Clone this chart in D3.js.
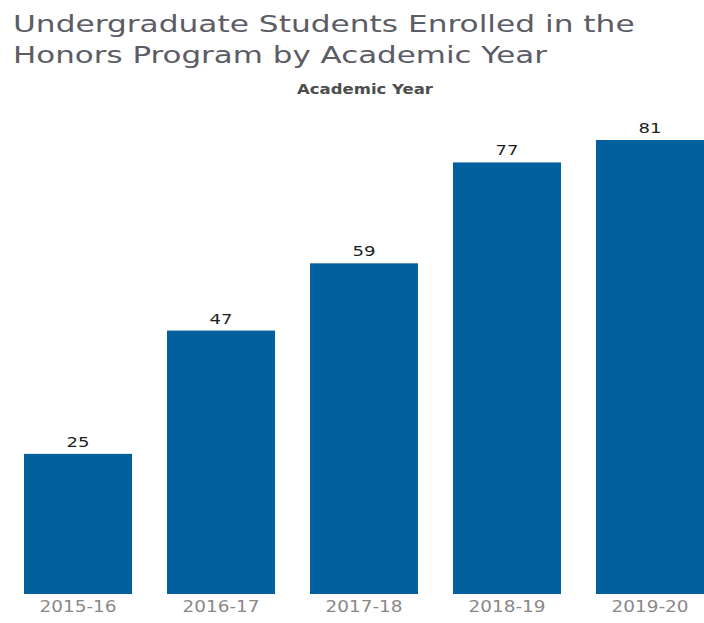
<!DOCTYPE html>
<html>
<head>
<meta charset="utf-8">
<script src="https://cdn.jsdelivr.net/npm/d3@7"></script>
<style>
  html, body { margin: 0; padding: 0; background: #fff; }
  svg { display: block; }
</style>
</head>
<body>
<svg id="chart" width="704" height="623"></svg>
<script>
// Honors enrollment per academic year
const years = ["2015-16", "2016-17", "2017-18", "2018-19", "2019-20"];
const enrolled = [25, 47, 59, 77, 81];
const titleLines = ["Undergraduate Students Enrolled in the", "Honors Program by Academic Year"];
const headerLabel = "Academic Year";

const svg = d3.select("#chart");
const W = 704, H = 623;

// Stretch a text horizontally about its anchor x so it spans `target` px
function widen(sel, target, anchorX) {
  sel.each(function () {
    const node = this;
    const w = node.getComputedTextLength();
    const s = target / w;
    const ax = anchorX != null ? anchorX : +node.getAttribute("x") || 0;
    d3.select(node).attr("transform",
      `translate(${ax},0) scale(${s},1) translate(${-ax},0)`);
  });
}

const x = d3.scaleBand()
  .domain(years)
  .range([6.5, 721.5])
  .paddingInner(0.245)
  .paddingOuter(0.1225);

const y = d3.scaleLinear()
  .domain([0, 81])
  .range([594, 140]);

// Title, two lines
const titleWidths = [622, 534];
const title = svg.append("g")
  .selectAll("text")
  .data(titleLines)
  .join("text")
  .attr("x", 13)
  .attr("y", (d, i) => 32 + i * 31)
  .attr("font-family", "'DejaVu Sans', sans-serif")
  .attr("font-size", 23.5)
  .attr("fill", "#5c5c66")
  .text(d => d);
title.each(function (d, i) { widen(d3.select(this), titleWidths[i], 13); });

// Column header
const header = svg.append("text")
  .attr("x", 365)
  .attr("y", 94)
  .attr("text-anchor", "middle")
  .attr("font-family", "'DejaVu Sans', sans-serif")
  .attr("font-weight", "bold")
  .attr("font-size", 14.5)
  .attr("fill", "#4d4d4d")
  .text(headerLabel);
widen(header, 136);

const data = years.map((yr, i) => ({ year: yr, value: enrolled[i] }));

// Bars
svg.append("g")
  .selectAll("rect")
  .data(data)
  .join("rect")
  .attr("x", d => x(d.year))
  .attr("y", d => y(d.value))
  .attr("width", x.bandwidth())
  .attr("height", d => y(0) - y(d.value))
  .attr("fill", "#02609f");

// Value labels
const values = svg.append("g")
  .selectAll("text")
  .data(data)
  .join("text")
  .attr("x", d => x(d.year) + x.bandwidth() / 2)
  .attr("y", d => y(d.value) - 7)
  .attr("text-anchor", "middle")
  .attr("font-family", "'DejaVu Sans', sans-serif")
  .attr("font-size", 14.5)
  .attr("fill", "#1e1e1e")
  .text(d => d.value);
widen(values, 23);

// Category axis
const xAxis = svg.append("g")
  .attr("transform", `translate(0,${y(0)})`)
  .call(d3.axisBottom(x).tickSize(0).tickPadding(7));
xAxis.select(".domain").remove();
const ticks = xAxis.selectAll("text")
  .attr("font-family", "'DejaVu Sans', sans-serif")
  .attr("font-size", 15)
  .attr("fill", "#888");
widen(ticks, 77, 0);
</script>
</body>
</html>
